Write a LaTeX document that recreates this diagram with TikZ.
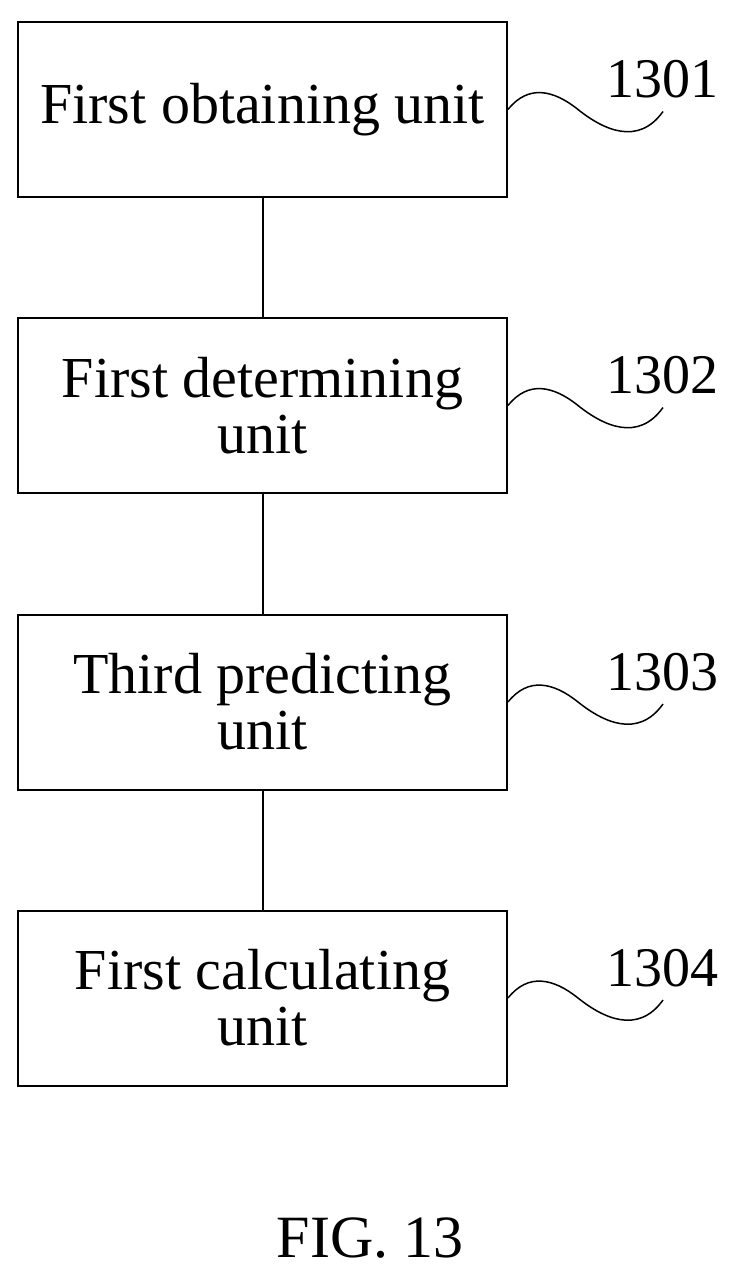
\documentclass[tikz,border=0pt]{standalone}
\usepackage{fontspec}
\setmainfont{Liberation Serif}
\usetikzlibrary{calc}
\begin{document}
\begin{tikzpicture}[x=1pt,y=-1pt,
  box/.style={draw,line width=2pt,minimum width=489pt,minimum height=175pt,align=center,font=\fontsize{58}{56}\selectfont,inner sep=0pt},
  lab/.style={font=\fontsize{56}{60}\selectfont,anchor=west,inner sep=0pt},
  wave/.style={line width=1.5pt}]
\useasboundingbox (0,0) rectangle (735,1272);
\node[box] (b1) at (262.5,109.5) {First obtaining unit};
\node[box] (b2) at (262.5,405.5) {First determining\\unit};
\node[box] (b3) at (262.5,702) {Third predicting\\unit};
\node[box] (b4) at (262.5,998) {First calculating\\unit};
\foreach \a/\b in {b1/b2,b2/b3,b3/b4} \draw[line width=2pt] (\a.south) -- (\b.north);
\foreach \i/\n in {1/1301,2/1302,3/1303,4/1304}{
  \coordinate (w\i) at ($(b\i.east)+(155,2)$);
  \draw[wave] (b\i.east) .. controls +(20,-25) and +(-25,-20) .. ($(b\i.east)+(70,0)$)
     .. controls +(25,20) and +(-25,35) .. (w\i);
  \node[lab] (l\i) at ($(b\i.east)+(98,-30)$) {\n};
}
\node[font=\fontsize{60}{60}\selectfont] (fig) at (370,1238) {FIG. 13};
\end{tikzpicture}
\end{document}
